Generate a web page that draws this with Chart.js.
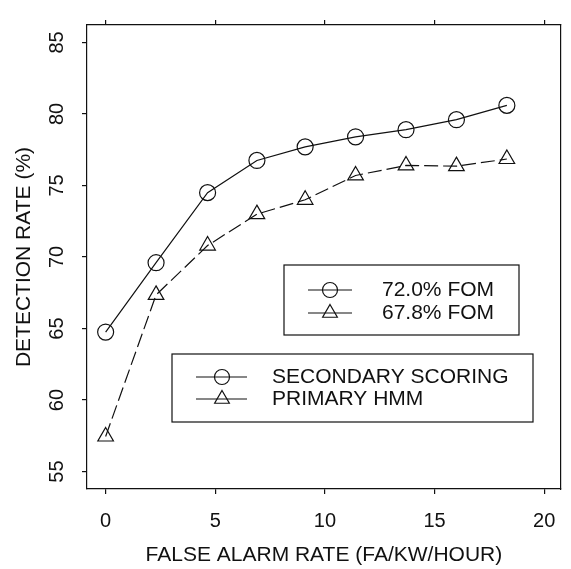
<!DOCTYPE html>
<html>
<head>
<meta charset="utf-8">
<script src="https://cdn.jsdelivr.net/npm/chart.js@4.4.1/dist/chart.umd.min.js"></script>
<style>
  html, body { margin: 0; padding: 0; background: #fff; }
  #wrap { width: 571px; height: 569px; }
</style>
</head>
<body>
<div id="wrap"><canvas id="chart" width="571" height="569"></canvas></div>
<script>
/* ─── data ─────────────────────────────────────────── */
const falseAlarmRate   = [0, 2.3, 4.65, 6.9, 9.1, 11.4, 13.7, 16.0, 18.3];
const secondaryScoring = [64.75, 69.6, 74.5, 76.75, 77.7, 78.4, 78.9, 79.6, 80.6];
const primaryHmm       = [57.45, 67.35, 70.8, 73.0, 74.0, 75.7, 76.4, 76.35, 76.85];

const xTicks = [0, 5, 10, 15, 20];
const yTicks = [55, 60, 65, 70, 75, 80, 85];

const seriesNames = ['SECONDARY SCORING', 'PRIMARY HMM'];
const fomLabels   = ['72.0% FOM', '67.8% FOM'];

const xTitle = 'FALSE ALARM RATE (FA/KW/HOUR)';
const yTitle = 'DETECTION RATE (%)';

/* ─── style ─────────────────────────────────────────── */
const INK  = '#111';
const FONT = "'Liberation Sans', Arial, Helvetica, sans-serif";
const LW   = 1.2;
const X_RANGE = [-0.85, 20.76];
const Y_RANGE = [53.78, 86.22];

const toPts = ys => ys.map((y, i) => ({ x: falseAlarmRate[i], y }));
const fixTicks = vals => scale => { scale.ticks = vals.map(v => ({ value: v })); };

/* ─── boxed legends drawn on top ────────────────────── */
function drawSymbol(ctx, style, x, y, r) {
  ctx.beginPath();
  if (style === 'triangle') {
    let a = 0;
    ctx.moveTo(x + Math.sin(a) * r, y - Math.cos(a) * r);
    a += 2 * Math.PI / 3;
    ctx.lineTo(x + Math.sin(a) * r, y - Math.cos(a) * r);
    a += 2 * Math.PI / 3;
    ctx.lineTo(x + Math.sin(a) * r, y - Math.cos(a) * r);
    ctx.closePath();
  } else {
    ctx.arc(x, y, r, 0, Math.PI * 2);
  }
  ctx.stroke();
}

function drawLegendBox(chart, box, labels) {
  const ctx = chart.ctx;
  ctx.save();
  ctx.strokeStyle = INK;
  ctx.fillStyle = INK;
  ctx.lineWidth = LW;
  ctx.strokeRect(box.left, box.top, box.right - box.left, box.bottom - box.top);
  ctx.font = `21px ${FONT}`;
  ctx.textBaseline = 'middle';
  ctx.textAlign = 'left';
  labels.forEach((txt, i) => {
    const ds = chart.data.datasets[i];
    const y = box.rows[i];
    ctx.beginPath();
    ctx.moveTo(box.lineFrom, y);
    ctx.lineTo(box.lineTo, y);
    ctx.stroke();
    drawSymbol(ctx, ds.pointStyle, box.symX, y, ds.pointStyle === 'triangle' ? 8.5 : 7.5);
    ctx.fillText(txt, box.textX, y);
  });
  ctx.restore();
}

const legendBoxes = {
  id: 'legendBoxes',
  afterDatasetsDraw(chart) {
    drawLegendBox(chart,
      { left: 284, right: 519, top: 265, bottom: 335, rows: [290, 313],
        lineFrom: 308, lineTo: 352, symX: 330, textX: 382 },
      fomLabels);
    drawLegendBox(chart,
      { left: 172, right: 533, top: 354, bottom: 422, rows: [377, 399],
        lineFrom: 196, lineTo: 247, symX: 222, textX: 272 },
      seriesNames);
  }
};

/* ─── chart ─────────────────────────────────────────── */
const tickGrid = { drawOnChartArea: false, drawTicks: true, tickLength: 5, color: INK, lineWidth: LW };
const edge = { display: true, color: INK, width: LW };

new Chart(document.getElementById('chart'), {
  type: 'line',
  data: {
    datasets: [
      {
        label: seriesNames[0],
        data: toPts(secondaryScoring),
        borderColor: INK,
        borderWidth: LW,
        tension: 0,
        pointStyle: 'circle',
        pointRadius: 8,
        pointBorderWidth: LW,
        pointBorderColor: INK,
        pointBackgroundColor: 'rgba(0,0,0,0)'
      },
      {
        label: seriesNames[1],
        data: toPts(primaryHmm),
        borderColor: INK,
        borderWidth: LW,
        borderDash: [14, 5],
        tension: 0,
        pointStyle: 'triangle',
        pointRadius: 9,
        pointBorderWidth: LW,
        pointBorderColor: INK,
        pointBackgroundColor: 'rgba(0,0,0,0)'
      }
    ]
  },
  options: {
    responsive: false,
    animation: false,
    devicePixelRatio: 1,
    layout: { padding: 0 },
    plugins: { legend: { display: false }, tooltip: { enabled: false } },
    scales: {
      x: {
        type: 'linear', position: 'bottom',
        min: X_RANGE[0], max: X_RANGE[1],
        afterBuildTicks: fixTicks(xTicks),
        afterFit: s => { s.height = 80; },
        grid: tickGrid, border: edge,
        ticks: { color: INK, padding: 15, maxRotation: 0, font: { family: FONT, size: 20 } },
        title: { display: true, text: xTitle, color: INK, padding: { top: 0, bottom: 1 },
                 font: { family: FONT, size: 21 } }
      },
      x2: {
        type: 'linear', position: 'top',
        min: X_RANGE[0], max: X_RANGE[1],
        afterBuildTicks: fixTicks(xTicks),
        afterFit: s => { s.height = 11; },
        grid: tickGrid, border: edge,
        ticks: { display: false }
      },
      y: {
        type: 'linear', position: 'left',
        min: Y_RANGE[0], max: Y_RANGE[1],
        afterBuildTicks: fixTicks(yTicks),
        afterFit: s => { s.width = 87; },
        grid: tickGrid, border: edge,
        ticks: { color: INK, padding: 13, minRotation: 90, maxRotation: 90, crossAlign: 'center',
                 font: { family: FONT, size: 20 } },
        title: { display: true, text: yTitle, color: INK, padding: { top: 12, bottom: 0 },
                 font: { family: FONT, size: 21 } }
      },
      y2: {
        type: 'linear', position: 'right',
        min: Y_RANGE[0], max: Y_RANGE[1],
        afterFit: s => { s.width = 1; },
        grid: { display: false }, border: edge,
        ticks: { display: false }
      }
    }
  },
  plugins: [legendBoxes]
});
</script>
</body>
</html>
